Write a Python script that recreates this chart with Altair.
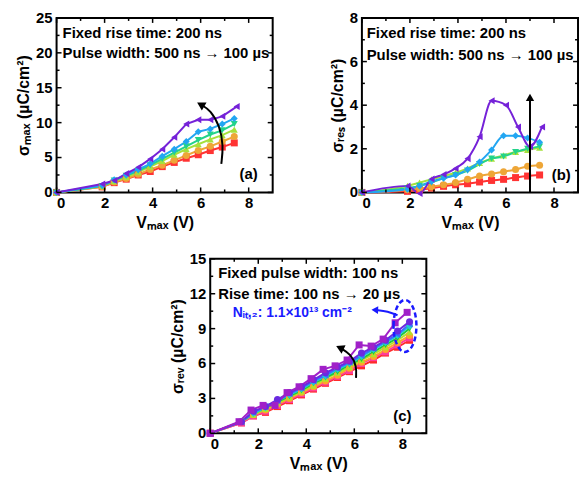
import altair as alt
import pandas as pd

FONT = "Liberation Sans"

# ---------------- Panel (a): sigma_max ----------------
a_names = ["red", "orange", "ygreen", "green", "blue", "purple"]
a_colors = ["#ff3333", "#eea637", "#a6e03c", "#22d38a", "#22a6f2", "#7522d8"]
a_shapes = ["square", "circle", "triangle-up", "triangle-down", "diamond", "triangle-left"]
a_x = [0, 1.9, 2.4, 2.9, 3.4, 3.9, 4.4, 4.9, 5.4, 5.9, 6.4, 6.9, 7.4]
a_x_purple = [0, 1.9, 2.4, 2.9, 3.4, 3.9, 4.4, 4.9, 5.4, 5.9, 6.4, 6.9, 7.5]
a_red = [0, 0.8, 1.4, 1.9, 2.5, 3.0, 3.7, 4.3, 4.9, 5.4, 6.0, 6.5, 7.1]
a_orange = [0, 0.8, 1.5, 2.0, 2.6, 3.3, 3.9, 4.6, 5.3, 6.0, 6.6, 7.3, 8.0]
a_ygreen = [0, 0.9, 1.6, 2.2, 2.9, 3.7, 4.5, 5.4, 6.2, 6.9, 7.6, 8.2, 9.0]
a_green = [0, 0.9, 1.7, 2.4, 3.1, 3.9, 4.8, 5.7, 6.6, 7.5, 8.3, 8.9, 9.8]
a_blue = [0, 1.0, 1.8, 2.5, 3.3, 4.1, 5.2, 6.2, 7.3, 8.7, 9.1, 9.8, 10.6]
a_purple = [0, 1.2, 1.7, 2.7, 3.6, 4.8, 6.2, 7.9, 9.8, 10.4, 10.4, 10.9, 12.3]
a_yticks = [0, 5, 10, 15, 20, 25]

# ---------------- Panel (b): sigma_res ----------------
b_x = [0, 1.9, 2.4, 2.9, 3.4, 3.9, 4.4, 4.9, 5.4, 5.9, 6.4, 6.9, 7.4]
b_x_purple = [0, 1.9, 2.4, 2.9, 3.4, 3.9, 4.4, 4.9, 5.4, 6.0, 6.5, 7.0, 7.5]
b_red = [0, 0.05, 0.12, 0.2, 0.28, 0.35, 0.4, 0.48, 0.55, 0.6, 0.68, 0.75, 0.8]
b_orange = [0, 0.12, 0.18, 0.25, 0.35, 0.45, 0.6, 0.75, 0.85, 0.95, 1.05, 1.2, 1.25]
b_ygreen = [0, 0.3, 0.45, 0.6, 0.75, 0.9, 1.1, 1.35, 1.55, 1.7, 1.85, 1.95, 2.05]
b_green = [0, 0.2, 0.3, 0.45, 0.65, 0.8, 1.0, 1.3, 1.55, 1.65, 1.85, 2.0, 2.1]
b_blue = [0, 0.15, 0.3, 0.5, 0.65, 0.8, 1.05, 1.4, 1.95, 2.6, 2.6, 2.5, 2.3]
b_purple = [0, 0.3, -0.05, 0.62, 0.82, 1.1, 1.55, 2.55, 4.2, 4.0, 3.0, 2.1, 3.0]
b_yticks = [0, 2, 4, 6, 8]

# ---------------- Panel (c): sigma_rev ----------------
c_names = ["red", "pink", "orange", "ygreen", "green", "cyan", "blue", "violet", "purple"]
c_colors = ["#ff2a2a", "#ff3d9a", "#ffa52a", "#b4e02a", "#22c83a", "#22c8d8", "#3a6cff", "#6a2ae0", "#a020c8"]
c_shapes = ["square", "square", "circle", "triangle-up", "triangle-down", "diamond", "triangle-left", "circle", "square"]
c_x = [0, 1.3, 1.8, 2.3, 2.8, 3.3, 3.8, 4.3, 4.8, 5.3, 5.8, 6.3, 6.8, 7.3, 7.8, 8.3]
c_x_purple = [0, 1.2, 1.7, 2.2, 2.7, 3.2, 3.7, 4.2, 4.7, 5.2, 5.7, 6.2, 6.7, 7.2, 7.7, 8.2]
c_red = [0, 0.9, 1.5, 1.8, 2.3, 2.8, 3.3, 3.8, 4.3, 4.8, 5.3, 5.8, 6.3, 6.9, 7.4, 8.0]
c_pink = [0, 0.9, 1.5, 1.9, 2.4, 2.9, 3.4, 3.9, 4.4, 4.9, 5.4, 6.0, 6.5, 7.0, 7.6, 8.2]
c_orange = [0, 1.0, 1.6, 2.0, 2.5, 3.0, 3.5, 4.0, 4.5, 5.0, 5.6, 6.1, 6.6, 7.2, 7.8, 8.4]
c_ygreen = [0, 1.0, 1.6, 2.1, 2.6, 3.1, 3.6, 4.1, 4.7, 5.2, 5.7, 6.3, 6.8, 7.4, 8.0, 8.7]
c_green = [0, 1.0, 1.7, 2.2, 2.7, 3.2, 3.7, 4.3, 4.8, 5.3, 5.9, 6.4, 7.0, 7.6, 8.2, 9.0]
c_cyan = [0, 1.0, 1.7, 2.2, 2.8, 3.3, 3.8, 4.4, 4.9, 5.5, 6.0, 6.6, 7.2, 7.8, 8.4, 9.2]
c_blue = [0, 1.0, 1.8, 2.3, 2.8, 3.4, 3.9, 4.5, 5.0, 5.6, 6.1, 6.7, 7.3, 7.9, 8.5, 9.4]
c_violet = [0, 1.0, 1.9, 2.3, 2.9, 3.5, 4.0, 4.6, 5.2, 5.7, 6.2, 6.9, 7.4, 8.0, 8.8, 9.6]
c_purple = [0, 1.0, 2.0, 2.4, 2.4, 3.5, 4.0, 4.7, 5.5, 5.8, 6.3, 7.6, 7.5, 8.1, 9.5, 10.4]
c_yticks = [0, 3, 6, 9, 12, 15]

x_ticks = [0, 2, 4, 6, 8]

# annotation arrows (data units)
a_arrow_x = [6.86, 6.95, 6.8, 6.4, 6.05]
a_arrow_y = [4.1, 6.7, 9.5, 11.8, 12.5]
b_arrow_x = [7.0, 7.0]
b_arrow_y = [0.0, 4.3]
c_arrow_x = [6.07, 6.1, 5.85, 5.45]
c_arrow_y = [4.77, 5.8, 6.8, 7.3]
c_blue_arrow_x = [7.8, 7.4, 6.9]
c_blue_arrow_y = [10.15, 10.5, 10.6]

W, H = 218, 176
TXT = 15


def series_df(names, xs, ys):
    rows = []
    for k, (n, xv, yv) in enumerate(zip(names, xs, ys)):
        for i, (a, b) in enumerate(zip(xv, yv)):
            rows.append({"s": n, "V": a, "Y": b, "k": k, "i": i})
    return pd.DataFrame(rows)


def tick_layers(xmaj, xmin, ymaj, ymin, xs, ys):
    layers = []
    for vals, L in ((xmaj, 5), (xmin, 3)):
        d = pd.DataFrame({"V": vals})
        base = alt.Chart(d).mark_rule(color="black", strokeWidth=1.5)
        layers.append(base.encode(x=alt.X("V:Q", scale=xs), y=alt.value(H), y2=alt.value(H - L)))
        layers.append(base.encode(x=alt.X("V:Q", scale=xs), y=alt.value(0), y2=alt.value(L)))
    for vals, L in ((ymaj, 5), (ymin, 3)):
        d = pd.DataFrame({"Y": vals})
        base = alt.Chart(d).mark_rule(color="black", strokeWidth=1.5)
        layers.append(base.encode(y=alt.Y("Y:Q", scale=ys), x=alt.value(0), x2=alt.value(L)))
        layers.append(base.encode(y=alt.Y("Y:Q", scale=ys), x=alt.value(W), x2=alt.value(W - L)))
    return layers


def panel(df, names, colors, shapes, ydom, ymaj, ymin, ytitle, tpad, interp, extra):
    xs = alt.Scale(domain=[0, 9], nice=False, zero=False)
    ys = alt.Scale(domain=ydom, nice=False, zero=False)
    cs = alt.Scale(domain=names, range=colors)
    ss = alt.Scale(domain=names, range=shapes)
    xax = alt.Axis(values=x_ticks, title="Vₘₐₓ (V)", format="d", labelOverlap=False)
    yax = alt.Axis(values=ymaj, title=ytitle, labels=False, titlePadding=tpad)
    lines = alt.Chart(df).mark_line(strokeWidth=2, interpolate=interp).encode(
        x=alt.X("V:Q", scale=xs, axis=xax),
        y=alt.Y("Y:Q", scale=ys, axis=yax),
        color=alt.Color("s:N", scale=cs, legend=None),
        order=alt.Order("i:Q"),
    )
    pts = alt.Chart(df).mark_point(filled=True, size=50, opacity=1).encode(
        x=alt.X("V:Q", scale=xs),
        y=alt.Y("Y:Q", scale=ys),
        color=alt.Color("s:N", scale=cs, legend=None),
        shape=alt.Shape("s:N", scale=ss, legend=None),
        order=alt.Order("k:Q"),
    )
    ylab = alt.Chart(pd.DataFrame({"Y": ymaj, "t": [str(v) for v in ymaj]})).mark_text(
        align="right", baseline="middle", fontSize=15, fontWeight="bold", font=FONT,
        color="black", dx=-4).encode(x=alt.value(0), y=alt.Y("Y:Q", scale=ys), text="t:N")
    layers = [lines, pts] + extra(xs, ys) + [ylab] + \
        tick_layers(x_ticks, [1, 3, 5, 7], ymaj, ymin, xs, ys)
    return alt.layer(*layers).properties(width=W, height=H)


def text_layer(xs, ys, xv, yv, txt, size=TXT, color="black", align="left"):
    d = pd.DataFrame({"V": xv, "Y": yv, "t": txt})
    return alt.Chart(d).mark_text(align=align, baseline="middle", fontSize=size, fontWeight="bold",
                                  font=FONT, color=color).encode(
        x=alt.X("V:Q", scale=xs), y=alt.Y("Y:Q", scale=ys), text="t:N")


def arrow(xs, ys, xv, yv, angle, color="black", interp="basis", size=90):
    d = pd.DataFrame({"V": xv, "Y": yv, "i": list(range(len(xv)))})
    ln = alt.Chart(d).mark_line(color=color, strokeWidth=2, interpolate=interp).encode(
        x=alt.X("V:Q", scale=xs), y=alt.Y("Y:Q", scale=ys), order="i:Q")
    head = alt.Chart(d.tail(1)).mark_point(shape="triangle", filled=True, color=color, size=size,
                                           opacity=1, angle=angle).encode(
        x=alt.X("V:Q", scale=xs), y=alt.Y("Y:Q", scale=ys))
    return [ln, head]


# ---- build panel (a)
df_a = series_df(a_names, [a_x] * 5 + [a_x_purple],
                 [a_red, a_orange, a_ygreen, a_green, a_blue, a_purple])


def extra_a(xs, ys):
    return arrow(xs, ys, a_arrow_x, a_arrow_y, 300) + [
        text_layer(xs, ys, [0.25, 0.25], [22.9, 20.0],
                   ["Fixed rise time: 200 ns", "Pulse width: 500 ns → 100 µs"]),
        text_layer(xs, ys, [8.0], [2.7], ["(a)"], align="center"),
    ]


pa = panel(df_a, a_names, a_colors, a_shapes, [0, 25], a_yticks,
           [2.5, 7.5, 12.5, 17.5, 22.5], "σₘₐₓ (µC/cm²)", 25, "linear", extra_a)

# ---- panel (b)
df_b = series_df(a_names, [b_x] * 5 + [b_x_purple],
                 [b_red, b_orange, b_ygreen, b_green, b_blue, b_purple])


def extra_b(xs, ys):
    return arrow(xs, ys, b_arrow_x, b_arrow_y, 0, interp="linear", size=70) + [
        text_layer(xs, ys, [0.2, 0.2], [7.3, 6.3],
                   ["Fixed rise time: 200 ns", "Pulse width: 500 ns → 100 µs"]),
        text_layer(xs, ys, [8.3], [0.8], ["(b)"], align="center"),
    ]


pb = panel(df_b, a_names, a_colors, a_shapes, [0, 8], b_yticks,
           [1, 3, 5, 7], "σᵣₑₛ (µC/cm²)", 17, "monotone", extra_b)

# ---- panel (c)
df_c = series_df(c_names, [c_x] * 8 + [c_x_purple],
                 [c_red, c_pink, c_orange, c_ygreen, c_green, c_cyan, c_blue, c_violet, c_purple])

ellipse = "M-0.44,0 A0.44,1 0 1,1 0.44,0 A0.44,1 0 1,1 -0.44,0 Z"


def extra_c(xs, ys):
    ell = alt.Chart(pd.DataFrame({"V": [8.11], "Y": [9.23]})).mark_point(
        shape=ellipse, size=2750, filled=False, color="#1a1aff", strokeWidth=2.5,
        strokeDash=[5, 3], opacity=1).encode(x=alt.X("V:Q", scale=xs), y=alt.Y("Y:Q", scale=ys))
    return [ell] + arrow(xs, ys, c_arrow_x, c_arrow_y, 295) + \
        arrow(xs, ys, c_blue_arrow_x, c_blue_arrow_y, 272, color="#1a1aff", size=60) + [
        text_layer(xs, ys, [0.33, 0.33], [13.8, 12.0],
                   ["Fixed pulse width: 100 ns", "Rise time: 100 ns → 20 µs"]),
        text_layer(xs, ys, [0.94], [10.3], ["Nᵢₜ,₂: 1.1×10¹³ cm⁻²"], size=14, color="#1a1aff"),
        text_layer(xs, ys, [8.0], [1.5], ["(c)"], align="center"),
    ]


pc = panel(df_c, c_names, c_colors, c_shapes, [0, 15], c_yticks,
           [1.5, 4.5, 7.5, 10.5, 13.5], "σᵣₑᵥ (µC/cm²)", 25, "linear", extra_c)

spacer = alt.Chart(pd.DataFrame({"V": [0]})).mark_point(opacity=0).properties(
    width=92, height=10, view=alt.ViewBackground(stroke="transparent"))

top = alt.hconcat(pa, pb, spacing=54).resolve_scale(color="independent", shape="independent")
bottom = alt.hconcat(spacer, pc, spacing=20).resolve_scale(color="independent", shape="independent")
chart = alt.vconcat(top, bottom, spacing=20).resolve_scale(
    color="independent", shape="independent"
).configure_view(stroke="black", strokeWidth=2).configure_axis(
    domain=False, ticks=False, grid=False, labelOverlap=False,
    labelFont=FONT, labelFontSize=15, labelFontWeight="bold", labelColor="black", labelPadding=3,
    titleFont=FONT, titleFontSize=16, titleFontWeight="bold", titleColor="black", titlePadding=4,
).properties(padding={"left": 7, "top": 0, "right": 0, "bottom": 0}, background="white")

chart.save("out.html", embed_options={"renderer": "svg", "actions": False})
